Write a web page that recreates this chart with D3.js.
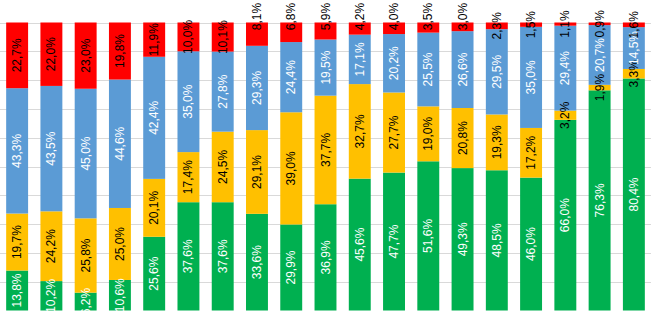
<!DOCTYPE html>
<html>
<head>
<meta charset="utf-8">
<script src="https://cdn.jsdelivr.net/npm/d3@7"></script>
<style>
  html, body { margin: 0; padding: 0; background: #ffffff; }
  svg { display: block; }
</style>
</head>
<body>
<div id="chart"></div>
<script>
// 100% stacked columns, labels rotated inside each segment

const categories = d3.range(1, 20).map(String);
const seriesNames = ["green", "orange", "blue", "red"];

const greenValues  = [13.8, 10.2, 6.2, 10.6, 25.6, 37.6, 37.6, 33.6, 29.9, 36.9, 45.6, 47.7, 51.6, 49.3, 48.5, 46.0, 66.0, 76.3, 80.4];
const orangeValues = [19.7, 24.2, 25.8, 25.0, 20.1, 17.4, 24.5, 29.1, 39.0, 37.7, 32.7, 27.7, 19.0, 20.8, 19.3, 17.2, 3.2, 1.9, 3.3];
const blueValues   = [43.3, 43.5, 45.0, 44.6, 42.4, 35.0, 27.8, 29.3, 24.4, 19.5, 17.1, 20.2, 25.5, 26.6, 29.5, 35.0, 29.4, 20.7, 14.5];
const redValues    = [22.7, 22.0, 23.0, 19.8, 11.9, 10.0, 10.1, 8.1, 6.8, 5.9, 4.2, 4.0, 3.5, 3.0, 2.3, 1.5, 1.1, 0.9, 1.6];

const yTicks = d3.range(0, 1.01, 0.1);

const colors = { green: "#00b050", orange: "#ffc000", blue: "#5b9bd5", red: "#ff0000" };
const labelColors = { green: "#ffffff", orange: "#000000", blue: "#ffffff", red: "#000000" };

// red labels that sit above the bar in the original (moved by hand there)
const raisedRed = new Set([7, 8, 9, 10, 11, 12, 13]);

const width = 651, height = 311;

const rows = categories.map((c, i) => ({
  cat: c,
  green: greenValues[i],
  orange: orangeValues[i],
  blue: blueValues[i],
  red: redValues[i]
}));

const stack = d3.stack().keys(seriesNames).offset(d3.stackOffsetExpand);
const stacked = stack(rows);

const x = d3.scaleBand()
  .domain(categories)
  .range([0, width])
  .paddingInner(0.36)
  .paddingOuter(0.18);

const y = d3.scaleLinear()
  .domain([0, 1])
  .range([310.5, 22.5]);

const svg = d3.select("#chart").append("svg")
  .attr("width", width)
  .attr("height", height);

// gridlines
svg.append("g")
  .selectAll("line")
  .data(yTicks)
  .join("line")
  .attr("x1", 0)
  .attr("x2", width)
  .attr("y1", d => Math.round(y(d)) + 0.5)
  .attr("y2", d => Math.round(y(d)) + 0.5)
  .attr("stroke", "#d9d9d9")
  .attr("stroke-width", 1);

// bars
const layers = svg.selectAll(".layer")
  .data(stacked)
  .join("g")
  .attr("class", "layer")
  .attr("fill", d => colors[d.key]);

layers.selectAll("rect")
  .data(d => d)
  .join("rect")
  .attr("x", d => x(d.data.cat))
  .attr("width", x.bandwidth())
  .attr("y", d => y(d[1]))
  .attr("height", d => y(d[0]) - y(d[1]));

// labels
const fmt = v => v.toFixed(1).replace(".", ",") + "%";

stacked.forEach(layer => {
  svg.append("g")
    .selectAll("text")
    .data(layer)
    .join("text")
    .attr("transform", (d, i) => {
      const cx = x(d.data.cat) + x.bandwidth() / 2;
      let cy = (y(d[0]) + y(d[1])) / 2;
      if (layer.key === "red" && raisedRed.has(i)) cy = y(1) - 6;
      return `translate(${cx},${cy}) rotate(-90)`;
    })
    .attr("text-anchor", "middle")
    .attr("dominant-baseline", "central")
    .attr("fill", labelColors[layer.key])
    .style("font-family", "'Liberation Sans', Arial, sans-serif")
    .style("font-size", "12px")
    .text(d => fmt(d.data[layer.key]));
});
</script>
</body>
</html>
